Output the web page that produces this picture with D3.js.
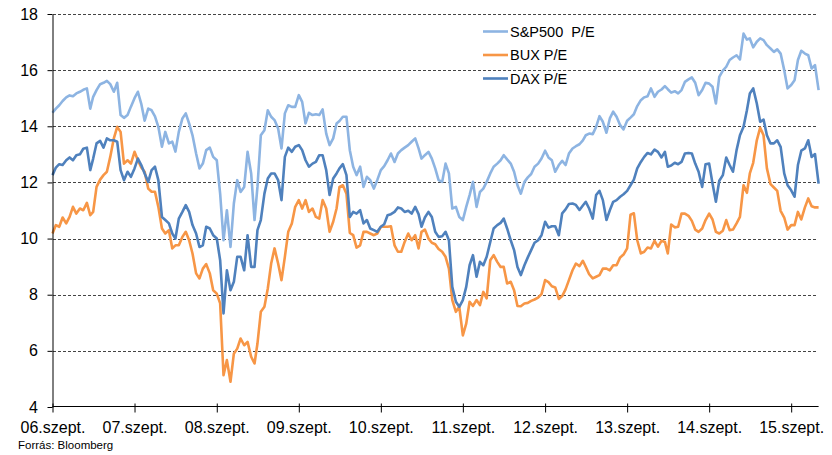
<!DOCTYPE html>
<html>
<head>
<meta charset="utf-8">
<script src="https://cdn.jsdelivr.net/npm/d3@7"></script>
<style>
  body { margin: 0; background: #fff; }
  svg text { font-family: "Liberation Sans", Arial, sans-serif; fill: #000; }
</style>
</head>
<body>
<div id="graph"></div>
<script>
/*******************************************************************************
* Data (semi-monthly readings, 2006-09-01 .. 2016-01-01)
*******************************************************************************/
var seriesNames = ['S&P500  P/E', 'BUX P/E', 'DAX P/E'];
var seriesColors = ['#8db4e2', '#f79646', '#4f81bd'];
var yTicks = [4, 6, 8, 10, 12, 14, 16, 18];
var xTickYears = [2006, 2007, 2008, 2009, 2010, 2011, 2012, 2013, 2014, 2015];

var spPE = [14.48,14.63,14.75,14.9,15.03,15.1,15.07,15.17,15.23,15.3,15.35,14.63,15.05,15.29,15.5,15.55,15.62,15.5,15.23,15.55,14.4,14.3,14.4,14.7,15.0,15.23,14.8,14.2,14.63,14.57,14.35,13.98,13.27,13.8,13.39,13.45,13.1,13.8,14.28,14.46,14.1,13.68,13.03,12.5,12.67,13.15,13.24,
  12.91,12.79,11.6,9.94,11.01,9.7,11.25,12.08,11.66,11.84,13.09,12.32,10.66,11.84,13.68,13.86,14.57,14.34,14.22,13.92,13.21,14.46,14.75,14.69,14.69,15.11,14.87,14.1,14.48,14.4,14.43,14.4,14.6,13.74,13.33,13.57,14.1,14.19,14.34,14.34,13.15,12.56,12.26,12.56,11.84,
  12.2,12.08,11.78,12.08,12.44,12.58,12.79,13.03,12.73,13.03,13.15,13.24,13.33,13.45,13.57,13.21,12.85,12.97,13.09,12.85,12.5,12.08,12.02,12.67,12.32,11.07,11.13,10.77,10.66,11.13,11.55,12.02,11.13,11.66,11.78,12.02,12.32,12.56,12.67,12.79,12.97,12.82,12.67,12.38,11.9,
  11.6,12.02,12.18,12.3,12.56,12.67,12.85,13.13,12.89,12.79,12.38,12.62,12.77,12.62,13.03,13.21,13.29,13.36,13.5,13.68,13.74,13.72,13.98,14.36,14.16,13.77,14.28,14.52,14.34,14.04,13.89,14.2,14.31,14.43,14.72,14.93,15.03,15.07,15.35,15.05,15.23,15.31,15.43,15.32,15.2,15.25,
  15.17,15.29,15.58,15.67,15.74,15.55,15.11,15.29,15.55,15.52,15.41,14.81,15.76,15.98,16.12,16.36,16.45,16.53,16.38,17.3,17.09,17.13,16.81,17.01,17.13,17.07,16.89,16.77,16.65,16.74,16.59,16.0,15.35,15.47,15.64,16.36,16.69,16.59,16.53,16.06,16.18,15.29];

var buxPE = [10.18,10.48,10.42,10.75,10.54,10.77,11.13,10.89,11.07,11.01,11.27,10.83,10.95,11.84,12.1,12.26,12.38,12.91,13.57,13.98,13.8,12.67,12.79,12.67,13.09,12.79,12.53,12.38,11.78,11.67,11.67,11.13,10.36,10.18,10.3,9.65,9.76,9.76,10.06,10.24,9.94,9.47,8.76,8.58,8.93,9.09,8.76,
  8.16,8.04,7.69,5.13,5.67,4.9,5.9,6.08,6.44,6.2,6.32,5.79,5.55,6.26,7.39,7.57,8.22,9.11,9.65,9.11,8.52,9.35,10.24,10.54,11.13,11.37,11.07,11.37,10.95,11.07,10.77,10.71,11.37,11.07,10.24,10.6,11.07,11.84,11.9,11.6,10.2,10.12,9.68,9.76,10.24,
  10.24,10.18,10.12,10.18,10.42,10.42,10.42,10.44,9.76,9.53,9.53,9.88,10.18,9.94,10.12,9.65,10.24,10.32,10.0,9.85,9.8,9.63,9.53,9.35,8.93,7.81,7.39,7.57,6.55,6.97,7.75,7.6,7.81,7.63,8.1,7.87,9.23,9.41,9.17,8.99,8.99,8.4,8.46,8.16,7.6,
  7.59,7.69,7.71,7.78,7.83,7.9,8.02,8.52,8.45,8.3,8.26,7.85,7.95,8.19,8.52,8.87,9.11,9.02,9.21,8.99,8.73,8.58,8.64,8.7,8.93,8.93,8.87,9.05,9.05,9.33,9.43,9.65,10.85,10.9,9.94,9.47,9.53,9.68,9.65,9.92,9.71,9.92,9.88,9.47,10.5,10.4,
  10.42,10.89,10.89,10.81,10.63,10.32,10.24,10.36,10.66,10.89,10.68,10.24,10.18,10.28,10.66,10.3,10.32,10.54,10.77,11.9,11.63,12.32,12.7,13.5,13.95,13.68,12.5,11.94,11.82,11.7,10.99,10.75,10.32,10.48,10.48,10.95,10.68,11.11,11.43,11.15,11.11,11.11];

var daxPE = [12.26,12.53,12.65,12.62,12.79,12.89,12.79,12.97,13.0,13.2,13.24,12.44,12.85,13.39,13.48,13.24,13.57,13.5,13.5,13.45,12.44,12.08,12.38,12.2,12.5,12.85,12.62,12.32,12.02,12.44,12.56,12.08,10.77,10.66,10.54,10.18,10.0,10.71,10.95,11.19,10.95,10.48,10.18,9.7,9.76,10.42,10.36,
  10.12,10.0,9.23,7.33,8.87,8.16,8.46,9.35,9.35,8.87,10.12,8.99,8.99,10.3,10.66,11.6,12.14,12.32,12.32,12.08,11.37,12.91,13.24,13.09,13.27,13.33,13.15,12.79,12.56,12.67,12.73,12.97,12.97,12.44,11.55,12.14,12.32,12.5,12.65,12.26,10.77,10.95,10.89,11.01,10.54,
  10.66,10.36,10.3,10.24,10.42,10.51,10.83,10.87,10.95,11.11,11.07,10.95,10.99,10.89,11.13,10.87,10.42,10.75,10.95,10.77,10.24,10.06,10.08,10.24,9.94,8.28,7.75,7.57,7.81,8.28,9.05,9.41,8.64,9.17,9.05,9.35,9.88,10.36,10.48,10.56,10.71,10.36,9.94,9.59,8.99,
  8.7,9.05,9.33,9.59,9.85,9.94,10.12,10.6,10.39,10.44,10.44,10.12,10.9,11.04,11.23,11.25,11.2,11.02,11.18,11.31,11.07,10.71,11.55,11.7,11.37,10.66,11.01,11.31,11.37,11.49,11.58,11.7,11.9,12.1,12.5,12.73,12.91,13.05,13.0,13.17,13.09,12.89,13.09,12.56,12.6,12.7,
  12.65,12.73,13.03,13.05,13.03,12.67,12.38,11.84,12.65,12.67,11.96,11.31,12.06,12.26,12.89,12.62,12.38,13.15,13.68,13.98,14.57,15.17,15.35,14.81,14.16,14.24,13.68,13.39,13.39,13.5,13.27,12.32,11.9,11.72,11.49,12.62,13.13,13.21,13.5,12.91,13.01,11.96];

// dates: 1st and 16th of every month starting Sep 2006
var dates = spPE.map(function(d, i){
  return new Date(2006, 8 + Math.floor(i / 2), i % 2 ? 16 : 1);
});

/*******************************************************************************
* Svg Container
*******************************************************************************/
var svg = d3.select('#graph').append('svg')
  .attr('width', 832)
  .attr('height', 455);

var x = d3.scaleTime()
  .domain([new Date(2006, 8, 1), new Date(2016, 0, 1)])
  .range([52.5, 818.6]);

var y = d3.scaleLinear()
  .domain([4, 18])
  .range([407, 14]);

/*******************************************************************************
* gridlines
*******************************************************************************/
svg.append('g').selectAll('line')
  .data(yTicks.filter(function(t){ return t > 4; }))
  .enter().append('line')
  .attr('x1', 53).attr('x2', 818)
  .attr('y1', function(d){ return Math.round(y(d)) + 0.5; })
  .attr('y2', function(d){ return Math.round(y(d)) + 0.5; })
  .attr('stroke', '#444')
  .attr('stroke-width', 1)
  .attr('stroke-dasharray', '3,2');

/*******************************************************************************
* lines
*******************************************************************************/
var allSeries = [spPE, buxPE, daxPE];
var line = d3.line()
  .x(function(d, i){ return x(dates[i]); })
  .y(function(d){ return y(d); });

svg.append('g').selectAll('path')
  .data(allSeries)
  .enter().append('path')
  .attr('d', function(d){ return line(d); })
  .attr('fill', 'none')
  .attr('stroke', function(d, i){ return seriesColors[i]; })
  .attr('stroke-width', 2.6)
  .attr('stroke-linejoin', 'round');

/*******************************************************************************
* axes
*******************************************************************************/
var yAxis = svg.append('g')
  .attr('transform', 'translate(52.5,0)')
  .call(d3.axisLeft(y).tickValues(yTicks).tickSize(5).tickSizeOuter(0).tickPadding(9.5));

var xAxis = svg.append('g')
  .attr('transform', 'translate(0,406.5)')
  .call(d3.axisBottom(x)
    .tickValues(xTickYears.map(function(yr){ return new Date(yr, 8, 1); }))
    .tickFormat(function(d){ return d3.timeFormat('%y')(d) + '.szept.'; })
    .tickSize(6).tickSizeOuter(0).tickPadding(9));

xAxis.selectAll('.tick line').attr('y1', -3);
xAxis.select('.domain').attr('d', 'M52.5,0H818.6');

[xAxis, yAxis].forEach(function(a){
  a.selectAll('text').style('font-size', '16px').attr('fill', '#000');
  a.selectAll('line, .domain').attr('stroke', '#000');
  a.attr('font-family', null);
});

/*******************************************************************************
* legend
*******************************************************************************/
var legend = svg.append('g').selectAll('g')
  .data(seriesNames)
  .enter().append('g')
  .attr('transform', function(d, i){ return 'translate(483,' + (31.5 + i * 23.5) + ')'; });

legend.append('line')
  .attr('x1', 0).attr('x2', 25)
  .attr('stroke', function(d, i){ return seriesColors[i]; })
  .attr('stroke-width', 2.6);

legend.append('text')
  .attr('x', 27)
  .attr('dy', '0.36em')
  .style('font-size', '14.5px')
  .style('white-space', 'pre')
  .text(function(d){ return d; });

svg.append('text')
  .attr('x', 18)
  .attr('y', 449)
  .style('font-size', '11.5px')
  .text('Forrás: Bloomberg');
</script>
</body>
</html>
